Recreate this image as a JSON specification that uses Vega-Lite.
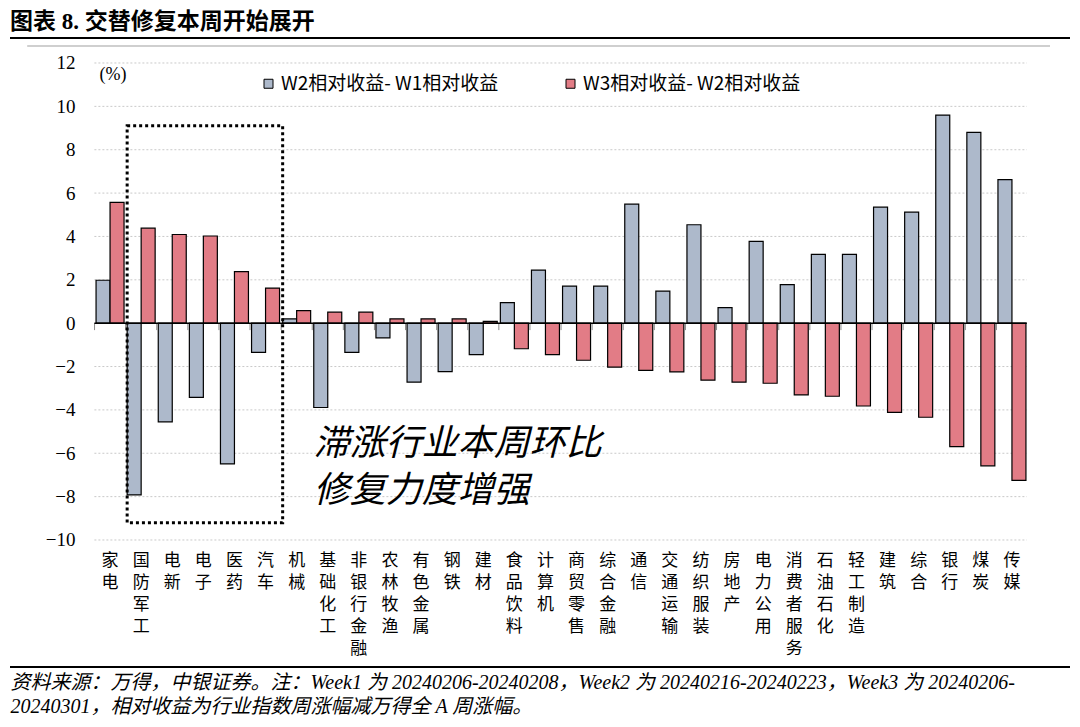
{
  "$schema": "https://vega.github.io/schema/vega-lite/v6.json",
  "width": 1060,
  "height": 629,
  "autosize": "none",
  "padding": {"left": 10, "top": 38, "right": 10, "bottom": 60},
  "background": "white",
  "title": {
    "text": "图表 8. 交替修复本周开始展开",
    "anchor": "start",
    "frame": "group",
    "font": "Liberation Serif, Noto Sans CJK SC",
    "fontSize": 23,
    "fontWeight": "bold",
    "color": "black",
    "baseline": "alphabetic",
    "offset": 8,
    "dy": 22
  },
  "config": {
    "view": {"stroke": "black", "strokeWidth": 2, "strokeDash": [1060, 629, 1060, 629]}
  },
  "datasets": {
    "bars": [
      {"cat": "家电", "series": "W2相对收益- W1相对收益", "value": 1.98},
      {"cat": "家电", "series": "W3相对收益- W2相对收益", "value": 5.57},
      {"cat": "国防军工", "series": "W2相对收益- W1相对收益", "value": -7.92},
      {"cat": "国防军工", "series": "W3相对收益- W2相对收益", "value": 4.38},
      {"cat": "电新", "series": "W2相对收益- W1相对收益", "value": -4.55},
      {"cat": "电新", "series": "W3相对收益- W2相对收益", "value": 4.09},
      {"cat": "电子", "series": "W2相对收益- W1相对收益", "value": -3.42},
      {"cat": "电子", "series": "W3相对收益- W2相对收益", "value": 4.02},
      {"cat": "医药", "series": "W2相对收益- W1相对收益", "value": -6.49},
      {"cat": "医药", "series": "W3相对收益- W2相对收益", "value": 2.38},
      {"cat": "汽车", "series": "W2相对收益- W1相对收益", "value": -1.35},
      {"cat": "汽车", "series": "W3相对收益- W2相对收益", "value": 1.62},
      {"cat": "机械", "series": "W2相对收益- W1相对收益", "value": 0.2},
      {"cat": "机械", "series": "W3相对收益- W2相对收益", "value": 0.58},
      {"cat": "基础化工", "series": "W2相对收益- W1相对收益", "value": -3.89},
      {"cat": "基础化工", "series": "W3相对收益- W2相对收益", "value": 0.51},
      {"cat": "非银行金融", "series": "W2相对收益- W1相对收益", "value": -1.35},
      {"cat": "非银行金融", "series": "W3相对收益- W2相对收益", "value": 0.51},
      {"cat": "农林牧渔", "series": "W2相对收益- W1相对收益", "value": -0.68},
      {"cat": "农林牧渔", "series": "W3相对收益- W2相对收益", "value": 0.2},
      {"cat": "有色金属", "series": "W2相对收益- W1相对收益", "value": -2.72},
      {"cat": "有色金属", "series": "W3相对收益- W2相对收益", "value": 0.2},
      {"cat": "钢铁", "series": "W2相对收益- W1相对收益", "value": -2.23},
      {"cat": "钢铁", "series": "W3相对收益- W2相对收益", "value": 0.2},
      {"cat": "建材", "series": "W2相对收益- W1相对收益", "value": -1.45},
      {"cat": "建材", "series": "W3相对收益- W2相对收益", "value": 0.08},
      {"cat": "食品饮料", "series": "W2相对收益- W1相对收益", "value": 0.95},
      {"cat": "食品饮料", "series": "W3相对收益- W2相对收益", "value": -1.18},
      {"cat": "计算机", "series": "W2相对收益- W1相对收益", "value": 2.45},
      {"cat": "计算机", "series": "W3相对收益- W2相对收益", "value": -1.45},
      {"cat": "商贸零售", "series": "W2相对收益- W1相对收益", "value": 1.71},
      {"cat": "商贸零售", "series": "W3相对收益- W2相对收益", "value": -1.71},
      {"cat": "综合金融", "series": "W2相对收益- W1相对收益", "value": 1.71},
      {"cat": "综合金融", "series": "W3相对收益- W2相对收益", "value": -2.03},
      {"cat": "通信", "series": "W2相对收益- W1相对收益", "value": 5.49},
      {"cat": "通信", "series": "W3相对收益- W2相对收益", "value": -2.18},
      {"cat": "交通运输", "series": "W2相对收益- W1相对收益", "value": 1.48},
      {"cat": "交通运输", "series": "W3相对收益- W2相对收益", "value": -2.25},
      {"cat": "纺织服装", "series": "W2相对收益- W1相对收益", "value": 4.54},
      {"cat": "纺织服装", "series": "W3相对收益- W2相对收益", "value": -2.63},
      {"cat": "房地产", "series": "W2相对收益- W1相对收益", "value": 0.72},
      {"cat": "房地产", "series": "W3相对收益- W2相对收益", "value": -2.72},
      {"cat": "电力公用", "series": "W2相对收益- W1相对收益", "value": 3.77},
      {"cat": "电力公用", "series": "W3相对收益- W2相对收益", "value": -2.77},
      {"cat": "消费者服务", "series": "W2相对收益- W1相对收益", "value": 1.78},
      {"cat": "消费者服务", "series": "W3相对收益- W2相对收益", "value": -3.31},
      {"cat": "石油石化", "series": "W2相对收益- W1相对收益", "value": 3.17},
      {"cat": "石油石化", "series": "W3相对收益- W2相对收益", "value": -3.37},
      {"cat": "轻工制造", "series": "W2相对收益- W1相对收益", "value": 3.17},
      {"cat": "轻工制造", "series": "W3相对收益- W2相对收益", "value": -3.82},
      {"cat": "建筑", "series": "W2相对收益- W1相对收益", "value": 5.35},
      {"cat": "建筑", "series": "W3相对收益- W2相对收益", "value": -4.11},
      {"cat": "综合", "series": "W2相对收益- W1相对收益", "value": 5.12},
      {"cat": "综合", "series": "W3相对收益- W2相对收益", "value": -4.34},
      {"cat": "银行", "series": "W2相对收益- W1相对收益", "value": 9.6},
      {"cat": "银行", "series": "W3相对收益- W2相对收益", "value": -5.69},
      {"cat": "煤炭", "series": "W2相对收益- W1相对收益", "value": 8.8},
      {"cat": "煤炭", "series": "W3相对收益- W2相对收益", "value": -6.58},
      {"cat": "传媒", "series": "W2相对收益- W1相对收益", "value": 6.62},
      {"cat": "传媒", "series": "W3相对收益- W2相对收益", "value": -7.25}
    ],
    "grid": [
      {"value": -10}, {"value": -8}, {"value": -6}, {"value": -4}, {"value": -2},
      {"value": 2}, {"value": 4}, {"value": 6}, {"value": 8}, {"value": 10}, {"value": 12}
    ],
    "frame": [
      {"value": 12.78}
    ],
    "note": [
      {"text": "滞涨行业本周环比\n修复力度增强", "cat": "基础化工", "value": -4.8}
    ],
    "box": [
      {"from": "国防军工", "to": "机械", "top": 9.1, "bottom": -9.2}
    ]
  },
  "layer": [
    {
      "data": {"name": "grid"},
      "mark": {"type": "rule", "color": "#c9c9c9", "strokeWidth": 1, "strokeDash": [2, 2]},
      "encoding": {
        "y": {
          "field": "value",
          "type": "quantitative",
          "scale": {"domain": [-15.858, 13.153], "nice": false, "zero": false},
          "axis": {
            "values": [-10, -8, -6, -4, -2, 0, 2, 4, 6, 8, 10, 12],
            "grid": false,
            "domain": false,
            "ticks": false,
            "offset": -67,
            "labelPadding": 2,
            "labelFont": "Liberation Serif",
            "labelFontSize": 19,
            "labelColor": "black",
            "labelBaseline": "middle",
            "title": "(%)",
            "titleAngle": 0,
            "titleAlign": "left",
            "titleBaseline": "middle",
            "titleX": 22,
            "titleY": 36,
            "titleFont": "Liberation Serif",
            "titleFontSize": 18,
            "titleFontWeight": "normal",
            "titleColor": "black"
          }
        },
        "x": {"datum": "家电", "bandPosition": -0.06},
        "x2": {"datum": "传媒", "bandPosition": 1.03}
      }
    },
    {
      "data": {"name": "frame"},
      "mark": {"type": "rule", "color": "#cfcfcf", "strokeWidth": 2},
      "encoding": {
        "y": {"field": "value", "type": "quantitative"},
        "x": {"datum": "家电", "bandPosition": -2.46},
        "x2": {"datum": "传媒", "bandPosition": 1.86}
      }
    },
    {
      "data": {"name": "bars"},
      "mark": {"type": "bar", "stroke": "black", "strokeWidth": 1.2},
      "encoding": {
        "x": {
          "field": "cat",
          "type": "nominal",
          "scale": {
            "domain": ["家电","国防军工","电新","电子","医药","汽车","机械","基础化工","非银行金融","农林牧渔","有色金属","钢铁","建材","食品饮料","计算机","商贸零售","综合金融","通信","交通运输","纺织服装","房地产","电力公用","消费者服务","石油石化","轻工制造","建筑","综合","银行","煤炭","传媒"],
            "range": [84.5, 1017.5],
            "paddingInner": 0.1,
            "paddingOuter": 0.05
          },
          "axis": {
            "orient": "bottom",
            "offset": -118,
            "domain": false,
            "ticks": false,
            "grid": false,
            "labelAngle": 0,
            "labelPadding": 3,
            "labelBaseline": "top",
            "labelAlign": "center",
            "labelFont": "Noto Sans CJK SC",
            "labelFontSize": 17,
            "labelLineHeight": 22,
            "labelColor": "black",
            "labelOverlap": false,
            "labelExpr": "split(datum.label, '')",
            "title": ["资料来源：万得，中银证券。注：Week1 为 20240206-20240208，Week2 为 20240216-20240223，Week3 为 20240206-", "20240301，相对收益为行业指数周涨幅减万得全 A 周涨幅。"],
            "titleAnchor": "start",
            "titleAlign": "left",
            "titleBaseline": "top",
            "titleX": 0,
            "titleY": 123,
            "titleFont": "Liberation Serif, Noto Sans CJK SC",
            "titleFontSize": 20,
            "titleFontStyle": "italic",
            "titleFontWeight": "normal",
            "titleLineHeight": 24,
            "titleColor": "black"
          }
        },
        "xOffset": {"field": "series", "type": "nominal", "scale": {"paddingInner": 0, "paddingOuter": 0}},
        "y": {"field": "value", "type": "quantitative"},
        "color": {
          "field": "series",
          "type": "nominal",
          "scale": {"range": ["#adb9cb", "#e27c86"]},
          "legend": {
            "orient": "none",
            "legendX": 249,
            "legendY": 36,
            "direction": "horizontal",
            "title": null,
            "symbolType": "square",
            "symbolSize": 81,
            "symbolStrokeColor": "black",
            "symbolStrokeWidth": 1,
            "symbolOpacity": 1,
            "labelFont": "Noto Sans CJK SC",
            "labelFontSize": 19,
            "labelColor": "black",
            "labelLimit": 400,
            "labelOffset": 3,
            "columnPadding": 62
          }
        }
      }
    },
    {
      "data": {"name": "bars"},
      "transform": [{"filter": "datum.series === 'W2相对收益- W1相对收益'"}],
      "mark": {"type": "rule", "color": "#8c8c8c", "strokeWidth": 1},
      "encoding": {
        "x": {"field": "cat", "type": "nominal", "bandPosition": -0.054},
        "y": {"datum": 0},
        "y2": {"datum": -0.32}
      }
    },
    {
      "data": {"name": "frame"},
      "mark": {"type": "rule", "color": "black", "strokeWidth": 1.6},
      "encoding": {
        "y": {"datum": 0},
        "x": {"datum": "家电", "bandPosition": -0.06},
        "x2": {"datum": "传媒", "bandPosition": 1.03}
      }
    },
    {
      "data": {"name": "box"},
      "mark": {"type": "rect", "fill": "transparent", "stroke": "black", "strokeWidth": 3, "strokeDash": [3, 3]},
      "encoding": {
        "x": {"field": "from", "type": "nominal", "bandPosition": 0},
        "x2": {"field": "to", "bandPosition": 0},
        "y": {"field": "top", "type": "quantitative"},
        "y2": {"field": "bottom"}
      }
    },
    {
      "data": {"name": "note"},
      "mark": {"type": "text", "align": "left", "baseline": "top", "font": "Noto Sans CJK SC", "fontSize": 36, "fontStyle": "italic", "lineHeight": 47, "lineBreak": "\n", "color": "black"},
      "encoding": {
        "x": {"field": "cat", "type": "nominal", "bandPosition": 0},
        "y": {"field": "value", "type": "quantitative"},
        "text": {"field": "text"}
      }
    }
  ]
}
